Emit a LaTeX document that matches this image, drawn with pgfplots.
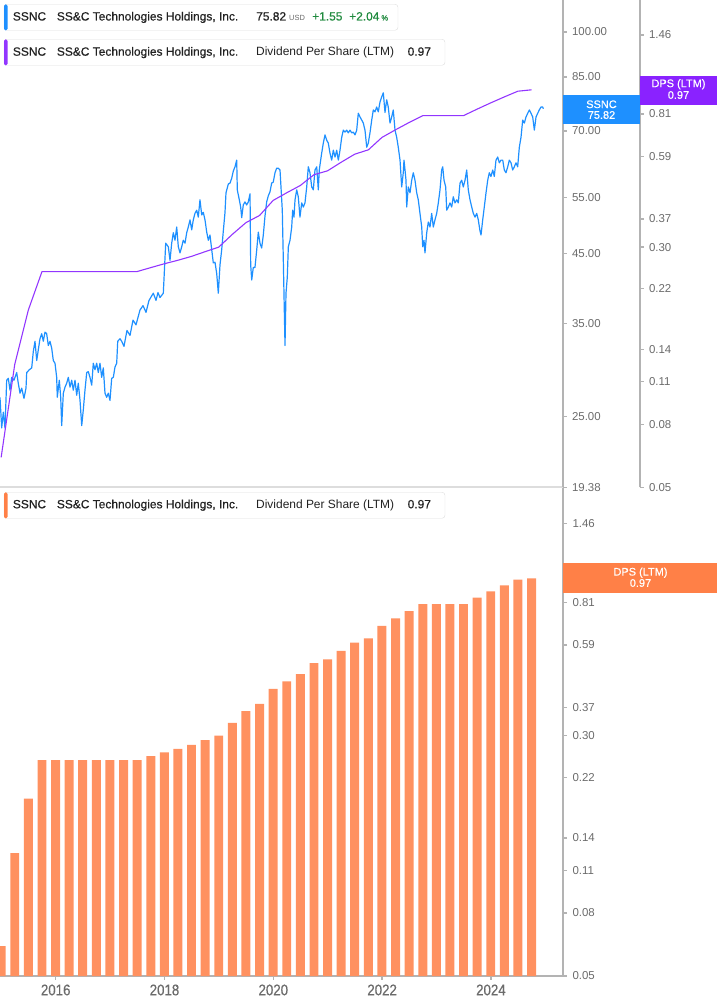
\documentclass[border=0pt]{standalone}
\usepackage{fontspec}
\setmainfont{Liberation Sans}
\newfontfamily\medium{Liberation Sans}[FakeBold=0.5]
\usepackage{pgfplots}
\usepackage{pgfplotstable}
\pgfplotsset{compat=1.18}

\definecolor{priceblue}{HTML}{1E90FF}
\definecolor{dpspurple}{HTML}{9236FF}
\definecolor{boxpurple}{HTML}{8A22FF}
\definecolor{barorange}{HTML}{FF9160}
\definecolor{boxorange}{HTML}{FF8047}
\definecolor{axisgray}{HTML}{B3B3B3}
\definecolor{labelgray}{HTML}{6B6B6B}
\definecolor{txt}{HTML}{222222}
\definecolor{upgreen}{HTML}{1F8A3E}
\definecolor{sep}{HTML}{DDDDDD}

% SSNC close, decimal years
\pgfplotstableread{
year price
2014.976 26.8
2015.007 24.0
2015.037 25.4
2015.068 24.0
2015.099 28.5
2015.129 28.7
2015.160 27.5
2015.191 28.8
2015.233 28.5
2015.283 29.3
2015.312 28.2
2015.344 27.2
2015.375 27.7
2015.417 26.7
2015.454 27.7
2015.467 29.3
2015.515 29.6
2015.559 29.8
2015.588 31.6
2015.619 32.8
2015.651 30.6
2015.680 31.8
2015.711 33.1
2015.743 33.7
2015.772 32.8
2015.803 33.9
2015.834 33.7
2015.864 32.3
2015.895 32.8
2015.926 32.0
2015.956 30.6
2015.987 30.3
2016.018 28.8
2016.029 26.8
2016.066 28.5
2016.092 26.8
2016.110 24.2
2016.140 27.2
2016.171 27.8
2016.202 28.2
2016.232 28.8
2016.263 27.8
2016.294 28.5
2016.323 27.5
2016.355 28.5
2016.386 27.0
2016.415 28.2
2016.447 26.5
2016.478 24.2
2016.507 25.6
2016.538 27.5
2016.570 29.3
2016.599 29.4
2016.630 28.8
2016.662 28.0
2016.691 30.3
2016.722 29.6
2016.753 30.3
2016.783 29.3
2016.814 30.3
2016.845 28.8
2016.875 29.8
2016.906 27.2
2016.937 26.8
2016.967 27.2
2016.998 26.5
2017.029 28.7
2017.059 28.8
2017.090 29.9
2017.121 30.3
2017.140 32.8
2017.182 33.1
2017.213 32.8
2017.255 32.2
2017.310 34.1
2017.366 33.5
2017.421 35.4
2017.476 34.8
2017.549 36.7
2017.605 37.3
2017.660 36.4
2017.715 38.0
2017.770 38.7
2017.794 39.0
2017.844 38.0
2017.880 39.1
2017.917 38.4
2017.978 39.0
2018.022 46.7
2018.070 46.1
2018.101 43.9
2018.132 46.7
2018.162 48.5
2018.193 47.2
2018.224 49.5
2018.254 46.1
2018.285 45.1
2018.316 46.1
2018.345 47.2
2018.377 46.7
2018.408 48.5
2018.437 49.5
2018.469 50.8
2018.500 49.0
2018.529 50.8
2018.560 52.0
2018.592 52.6
2018.621 51.3
2018.652 54.6
2018.684 51.7
2018.713 52.2
2018.744 50.8
2018.776 48.6
2018.805 47.2
2018.836 48.1
2018.868 45.6
2018.897 43.5
2018.928 43.6
2018.959 41.9
2018.989 39.0
2019.020 43.2
2019.051 45.6
2019.081 48.8
2019.112 52.2
2019.130 56.0
2019.173 57.8
2019.204 58.0
2019.235 59.0
2019.265 60.6
2019.296 61.5
2019.327 63.0
2019.338 56.6
2019.375 54.6
2019.400 53.2
2019.419 51.2
2019.448 53.6
2019.479 54.2
2019.511 53.6
2019.540 54.2
2019.572 55.8
2019.584 43.2
2019.603 40.9
2019.632 42.8
2019.663 42.8
2019.695 45.6
2019.724 48.6
2019.755 46.7
2019.786 45.9
2019.816 48.1
2019.847 51.5
2019.878 54.2
2019.908 55.4
2019.939 56.2
2019.970 58.0
2019.999 58.2
2020.031 60.2
2020.062 61.2
2020.092 61.2
2020.123 60.8
2020.141 57.2
2020.165 52.6
2020.184 43.9
2020.202 36.7
2020.215 32.3
2020.233 39.0
2020.257 41.3
2020.276 46.1
2020.307 47.2
2020.338 49.5
2020.356 52.6
2020.380 51.3
2020.399 54.6
2020.430 56.6
2020.459 55.2
2020.490 51.3
2020.522 54.0
2020.551 53.2
2020.582 54.0
2020.614 57.2
2020.643 61.5
2020.674 60.2
2020.706 57.2
2020.735 56.6
2020.766 60.8
2020.798 61.5
2020.827 56.6
2020.845 60.8
2020.889 64.6
2020.919 67.0
2020.950 69.0
2020.981 67.7
2021.011 67.0
2021.042 64.6
2021.073 63.0
2021.103 65.3
2021.134 63.7
2021.165 65.3
2021.195 63.0
2021.226 65.3
2021.257 68.4
2021.287 70.2
2021.318 69.7
2021.349 70.2
2021.378 69.5
2021.410 70.2
2021.441 69.5
2021.470 69.7
2021.502 69.0
2021.533 70.2
2021.562 74.6
2021.594 73.6
2021.625 72.8
2021.654 72.0
2021.685 70.2
2021.717 66.0
2021.746 67.0
2021.777 69.5
2021.809 72.8
2021.838 75.5
2021.869 75.0
2021.900 76.3
2021.930 75.0
2021.961 77.7
2021.992 79.1
2022.022 80.3
2022.053 74.8
2022.084 78.3
2022.113 76.3
2022.145 72.0
2022.176 73.6
2022.205 75.5
2022.237 70.2
2022.268 68.4
2022.297 66.0
2022.329 63.0
2022.360 57.2
2022.389 60.2
2022.402 63.0
2022.421 60.8
2022.439 58.6
2022.452 53.2
2022.481 57.2
2022.513 56.0
2022.544 58.6
2022.573 60.2
2022.604 58.6
2022.636 56.0
2022.665 54.6
2022.696 52.0
2022.728 49.5
2022.746 46.1
2022.770 47.2
2022.788 45.1
2022.820 48.5
2022.849 50.4
2022.880 49.5
2022.911 52.0
2022.941 49.5
2022.972 50.8
2023.003 52.0
2023.033 54.0
2023.064 56.6
2023.095 60.8
2023.114 61.5
2023.138 58.6
2023.169 57.2
2023.187 52.6
2023.217 53.2
2023.248 54.0
2023.279 53.2
2023.308 55.2
2023.340 54.0
2023.371 54.6
2023.400 54.0
2023.432 58.0
2023.463 58.6
2023.492 57.2
2023.524 58.6
2023.555 60.8
2023.584 56.6
2023.616 54.6
2023.647 53.2
2023.676 52.0
2023.708 51.3
2023.739 52.0
2023.768 50.8
2023.799 48.8
2023.818 48.1
2023.849 50.8
2023.878 53.2
2023.910 56.0
2023.941 58.6
2023.970 60.2
2024.001 59.4
2024.033 60.8
2024.062 59.4
2024.093 63.0
2024.125 63.7
2024.154 62.4
2024.185 63.0
2024.217 63.0
2024.246 60.8
2024.277 60.2
2024.309 61.5
2024.338 63.0
2024.369 62.4
2024.400 60.8
2024.430 61.5
2024.461 62.4
2024.492 61.5
2024.522 66.0
2024.553 68.4
2024.584 72.8
2024.614 72.0
2024.645 73.6
2024.676 74.6
2024.706 75.5
2024.737 74.6
2024.768 73.6
2024.798 70.2
2024.829 73.6
2024.860 74.6
2024.889 75.5
2024.921 76.3
2024.952 76.3
2024.963 75.82
}\pricetable

% dividend per share, last twelve months, at quarter ends
\pgfplotstableread{
year dps
2014.997 0.0625
2015.247 0.125
2015.496 0.1875
2015.748 0.25
2015.997 0.25
2016.247 0.25
2016.496 0.25
2016.748 0.25
2016.997 0.25
2017.247 0.25
2017.496 0.25
2017.748 0.2575
2017.997 0.265
2018.247 0.272
2018.496 0.28
2018.748 0.29
2018.997 0.30
2019.247 0.33
2019.496 0.36
2019.748 0.38
2019.997 0.425
2020.247 0.45
2020.496 0.475
2020.748 0.515
2020.997 0.53
2021.247 0.565
2021.496 0.60
2021.748 0.62
2021.997 0.68
2022.247 0.72
2022.496 0.76
2022.748 0.80
2022.997 0.80
2023.247 0.80
2023.496 0.80
2023.748 0.84
2023.997 0.88
2024.247 0.92
2024.496 0.96
2024.748 0.97
}\dpstable

\begin{document}
\begin{tikzpicture}
\path[use as bounding box] (0bp,0bp) rectangle (717bp,1005bp);

% price, top panel
\begin{axis}[at={(0bp,517.7bp)}, anchor=south west, scale only axis,
  width=563bp, height=487.3bp, ymode=log, yminorticks=false,
  xmin=2014.976, xmax=2025.325, ymin=19.38, ymax=112.2,
  axis y line*=right, axis x line*=bottom, xtick=\empty,
  y axis line style={-, draw=axisgray, line width=1.2bp},
  x axis line style={-, draw=sep, line width=2bp},
  tick style={draw=axisgray, line width=1.3bp},
  major tick length=3.5bp, tick align=outside,
  yticklabel style={font=\fontsize{11.5}{12}\selectfont, text=labelgray, xshift=2bp},
  ytick={19.38,25,35,45,55,70,85,100},
  yticklabels={19.38,25.00,35.00,45.00,55.00,70.00,85.00,100.00}]
\addplot[priceblue, line width=1.2bp, line join=round] table[x=year, y=price] {\pricetable};
\end{axis}

% dividend line, top panel, own axis at x=640
\begin{axis}[at={(0bp,517.7bp)}, anchor=south west, scale only axis,
  width=640bp, height=487.3bp, ymode=log, yminorticks=false,
  xmin=2014.976, xmax=2026.741, ymin=0.05, ymax=1.8957,
  axis y line*=right, axis x line=none,
  y axis line style={-, draw=axisgray, line width=1.2bp},
  tick style={draw=axisgray, line width=1.3bp},
  major tick length=3.5bp, tick align=outside,
  yticklabel style={font=\fontsize{11.5}{12}\selectfont, text=labelgray, xshift=2bp},
  ytick={0.05,0.08,0.11,0.14,0.22,0.30,0.37,0.59,0.81,1.00,1.46},
  yticklabels={0.05,0.08,0.11,0.14,0.22,0.30,0.37,0.59,0.81,1.00,1.46}]
\addplot[dpspurple, line width=1.1bp] table[x=year, y=dps] {\dpstable};
\end{axis}

% dividend bars, bottom panel
\begin{axis}[at={(0bp,29bp)}, anchor=south west, scale only axis,
  width=563bp, height=488bp, ymode=log, yminorticks=false,
  xmin=2014.976, xmax=2025.325, ymin=0.05, ymax=1.9017, log origin=infty,
  axis y line*=right, axis x line*=bottom,
  axis line style={-, draw=axisgray, line width=1.2bp},
  tick style={draw=axisgray, line width=1.3bp},
  major tick length=4bp, tick align=outside,
  xtick={2016,2018,2020,2022,2024},
  xticklabels={2016,2018,2020,2022,2024},
  xticklabel style={font=\medium\fontsize{15.5}{16}\selectfont, text=labelgray, xscale=0.86, yshift=-1bp},
  yticklabel style={font=\fontsize{11.5}{12}\selectfont, text=labelgray, xshift=2bp},
  ytick={0.05,0.08,0.11,0.14,0.22,0.30,0.37,0.59,0.81,1.00,1.46},
  yticklabels={0.05,0.08,0.11,0.14,0.22,0.30,0.37,0.59,0.81,1.00,1.46},
  bar width=0.165]
\addplot[ybar, fill=barorange, draw=none] table[x=year, y=dps] {\dpstable};
\end{axis}

\begin{scope}[x=1bp, y=1bp]
% value flags on the right
\begin{scope}[every node/.style={text=white, font=\medium\fontsize{11}{12}\selectfont}]
\fill[priceblue] (563,910) rectangle (640,880.7);
\node at (601.5,900.7) {SSNC};
\node at (601.5,890) {75.82};
\fill[boxpurple] (640,929) rectangle (717,900);
\node at (678.5,920.7) {DPS (LTM)};
\node at (678.5,910) {0.97};
\fill[boxorange] (563,442.3) rectangle (717,412.3);
\node at (640.5,432.3) {DPS (LTM)};
\node at (640.5,422) {0.97};
\end{scope}

% legend boxes
\begin{scope}[every node/.style={anchor=base west, inner sep=0, font=\medium\fontsize{12}{13}\selectfont, text=txt}]
\draw[sep, fill=white, rounded corners=3bp] (4,1000.7) rectangle (398,974.7);
\fill[priceblue, rounded corners=1.5bp] (4,1000.7) rectangle (7.5,974.7);
\node at (12.7,984.5) {SSNC};
\node at (56.7,984.5) {SS\&C Technologies Holdings, Inc.};
\node at (256,984.5) {75.82};
\node[font=\fontsize{7.5}{8}\selectfont, text=labelgray] at (289,984.5) {USD};
\node[text=upgreen] at (312,984.5) {+1.55};
\node[text=upgreen] at (349,984.5) {+2.04\,{\fontsize{7.5}{8}\selectfont\%}};

\draw[sep, fill=white, rounded corners=3bp] (4,965.7) rectangle (445,939.7);
\fill[dpspurple, rounded corners=1.5bp] (4,965.7) rectangle (7.5,939.7);
\node at (12.7,949.3) {SSNC};
\node at (56.7,949.3) {SS\&C Technologies Holdings, Inc.};
\node[font=\fontsize{12}{13}\selectfont] at (256,949.3) {Dividend Per Share (LTM)};
\node at (407.5,949.3) {0.97};

\draw[sep, fill=white, rounded corners=3bp] (4,512.7) rectangle (445,486.7);
\fill[boxorange, rounded corners=1.5bp] (4,512.7) rectangle (7.5,486.7);
\node at (12.7,496.7) {SSNC};
\node at (56.7,496.7) {SS\&C Technologies Holdings, Inc.};
\node[font=\fontsize{12}{13}\selectfont] at (256,496.7) {Dividend Per Share (LTM)};
\node at (407.5,496.7) {0.97};
\end{scope}
\end{scope}
\end{tikzpicture}
\end{document}
